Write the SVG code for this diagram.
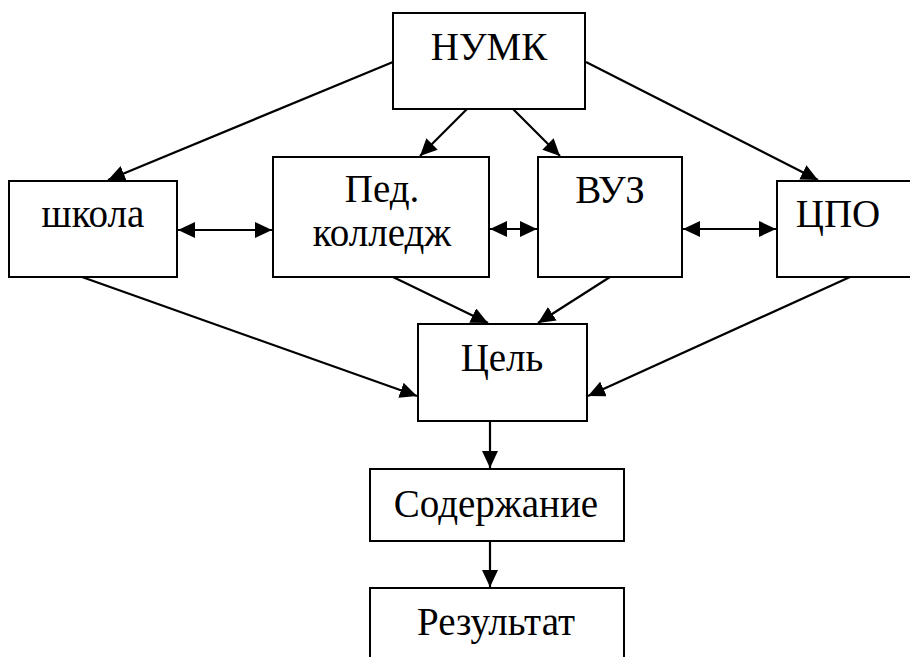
<svg xmlns="http://www.w3.org/2000/svg" width="910" height="657" viewBox="0 0 910 657">
<style>
.box{fill:#fff;stroke:#000;stroke-width:2}
.t{font-family:"Liberation Serif","DejaVu Serif","Times New Roman",serif;font-size:39px;fill:#000;text-anchor:middle}
.c{stroke:#000;stroke-width:2.2;fill:none}
</style>
<defs>
<marker id="ah" markerUnits="userSpaceOnUse" markerWidth="18" markerHeight="16" refX="17" refY="8" orient="auto-start-reverse">
<path d="M0,0 L17,8 L0,16 Z" fill="#000"/>
</marker>
</defs>
<rect width="910" height="657" fill="#fff"/>
<g id="connectors">
<line class="c" x1="393" y1="62" x2="108" y2="180" marker-end="url(#ah)"/>
<line class="c" x1="586" y1="62" x2="818" y2="180" marker-end="url(#ah)"/>
<line class="c" x1="467" y1="109" x2="420" y2="156" marker-end="url(#ah)"/>
<line class="c" x1="513" y1="109" x2="560" y2="156" marker-end="url(#ah)"/>
<line class="c" x1="178" y1="230" x2="272" y2="230" marker-start="url(#ah)" marker-end="url(#ah)"/>
<line class="c" x1="490" y1="229" x2="537" y2="229" marker-start="url(#ah)" marker-end="url(#ah)"/>
<line class="c" x1="683" y1="229" x2="776" y2="229" marker-start="url(#ah)" marker-end="url(#ah)"/>
<line class="c" x1="82" y1="277" x2="417" y2="396" marker-end="url(#ah)"/>
<line class="c" x1="393" y1="277" x2="488" y2="323" marker-end="url(#ah)"/>
<line class="c" x1="610" y1="277" x2="538" y2="323" marker-end="url(#ah)"/>
<line class="c" x1="850" y1="277" x2="588" y2="396" marker-end="url(#ah)"/>
<line class="c" x1="490" y1="421" x2="490" y2="468" marker-end="url(#ah)"/>
<line class="c" x1="490" y1="541" x2="490" y2="587" marker-end="url(#ah)"/>
</g>
<g id="numk"><rect class="box" x="393" y="13" width="192" height="96"/><text class="t" x="489" y="60">НУМК</text></g>
<g id="shkola"><rect class="box" x="9" y="181" width="168" height="96"/><text class="t" x="93" y="227">школа</text></g>
<g id="ped"><rect class="box" x="273" y="157" width="216" height="120"/><text class="t" x="382" y="202">Пед.</text><text class="t" x="382" y="246">колледж</text></g>
<g id="vuz"><rect class="box" x="538" y="157" width="144" height="120"/><text class="t" x="610" y="203">ВУЗ</text></g>
<g id="cpo"><rect class="box" x="777" y="181" width="150" height="96"/><text class="t" x="838" y="227">ЦПО</text></g>
<g id="cel"><rect class="box" x="418" y="324" width="169" height="97"/><text class="t" x="502" y="371">Цель</text></g>
<g id="soderzhanie"><rect class="box" x="370" y="469" width="254" height="72"/><text class="t" x="496" y="517">Содержание</text></g>
<g id="rezultat"><rect class="box" x="370" y="588" width="254" height="80"/><text class="t" x="496" y="635">Результат</text></g>
</svg>
